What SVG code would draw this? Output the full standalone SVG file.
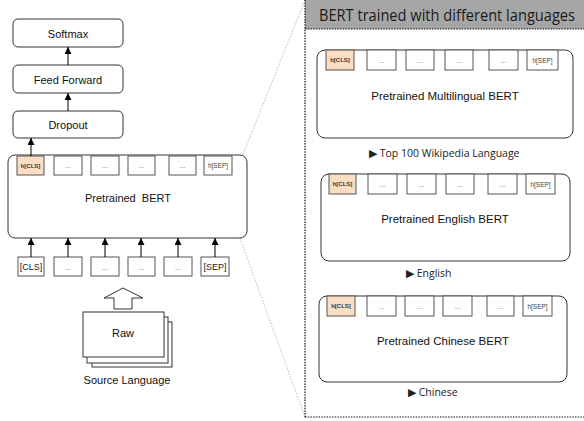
<svg xmlns="http://www.w3.org/2000/svg" width="584" height="421" viewBox="0 0 584 421">
<defs>
<marker id="ah" viewBox="0 0 8 8" refX="8" refY="4" markerWidth="7" markerHeight="7" markerUnits="userSpaceOnUse" orient="auto"><path d="M0,0 L8,4 L0,8 Z" fill="#000"/></marker>
<style>
.box{fill:#fff;stroke:#333;stroke-width:1}
.tok{fill:#fff;stroke:#555;stroke-width:1}
.cls{fill:#FADDC2;stroke:#555;stroke-width:1}
.lbl{font-family:"Liberation Sans",Arial,sans-serif;font-size:11px;fill:#111;text-anchor:middle}
.big{font-family:"Liberation Sans",Arial,sans-serif;font-size:11.5px;fill:#111;text-anchor:middle}
.hc{font-family:"Liberation Sans",Arial,sans-serif;font-size:6px;font-weight:bold;fill:#333;text-anchor:middle}
.hs{font-family:"Liberation Sans",Arial,sans-serif;font-size:6.5px;fill:#444;text-anchor:middle}
.dots{font-family:"Liberation Sans",Arial,sans-serif;font-size:7px;fill:#666;text-anchor:middle}
.in{font-family:"Liberation Sans",Arial,sans-serif;font-size:9px;fill:#222;text-anchor:middle}
.cap{font-family:"Open Sans","Noto Sans",sans-serif;font-size:10.5px;fill:#222}
.arr{stroke:#000;stroke-width:1;fill:none;marker-end:url(#ah)}
.gline{stroke:#bbb;stroke-width:1;stroke-dasharray:1.5 1.5;fill:none}
.dborder{stroke:#111;stroke-width:1.2;stroke-dasharray:1.5 1.2;fill:none}
</style>
</defs>

<!-- zoom guide lines -->
<g id="guides">
<line class="gline" x1="242" y1="157" x2="305" y2="0"/>
<line class="gline" x1="240" y1="238" x2="305" y2="417"/>
</g>

<!-- right panel -->
<g id="panel">
<rect x="305" y="0" width="279" height="29" fill="#A6A6A6"/>
<line class="dborder" x1="305" y1="29" x2="584" y2="29"/>
<line class="dborder" x1="305" y1="0" x2="305" y2="417"/>
<line class="dborder" x1="305" y1="417" x2="584" y2="417"/>
<text x="319" y="21" font-family="'Open Sans','Noto Sans',sans-serif" font-size="16.5" fill="#1a1a1a" textLength="256" lengthAdjust="spacingAndGlyphs">BERT trained with different languages</text>
</g>

<g id="softmax"><rect class="box" x="13" y="19" width="110" height="28" rx="5"/><text class="lbl" x="68" y="38">Softmax</text></g>
<g id="feedforward"><rect class="box" x="13" y="65" width="110" height="28" rx="5"/><text class="lbl" x="68" y="84">Feed Forward</text></g>
<g id="dropout"><rect class="box" x="13" y="111" width="110" height="27" rx="5"/><text class="lbl" x="68" y="129">Dropout</text></g>

<g id="bert">
<rect class="box" x="8" y="155" width="239" height="83" rx="7"/>
<text class="lbl" x="128" y="202" style="white-space:pre" xml:space="preserve">Pretrained  BERT</text>
<rect class="cls" x="17" y="156" width="27" height="19"/><text class="hc" x="30.5" y="167.5">h[CLS]</text>
<rect class="tok" x="54" y="156" width="28" height="19"/><text class="dots" x="68" y="168">...</text>
<rect class="tok" x="91" y="156" width="28" height="19"/><text class="dots" x="105" y="168">...</text>
<rect class="tok" x="128" y="156" width="27" height="19"/><text class="dots" x="141.5" y="168">...</text>
<rect class="tok" x="169" y="156" width="27" height="19"/><text class="dots" x="182.5" y="168">...</text>
<rect class="tok" x="204" y="156" width="28" height="19"/><text class="hs" x="218" y="168">h[SEP]</text>
</g>

<g id="inputs">
<rect class="tok" x="18" y="257" width="26" height="19"/><text class="in" x="31" y="270">[CLS]</text>
<rect class="tok" x="54" y="257" width="28" height="19"/><text class="dots" x="68" y="269.5">...</text>
<rect class="tok" x="91" y="257" width="28" height="19"/><text class="dots" x="105" y="269.5">...</text>
<rect class="tok" x="128" y="257" width="27" height="19"/><text class="dots" x="141.5" y="269.5">...</text>
<rect class="tok" x="164" y="257" width="28" height="19"/><text class="dots" x="178" y="269.5">...</text>
<rect class="tok" x="201" y="257" width="28" height="19"/><text class="in" x="215" y="270">[SEP]</text>
</g>

<g id="raw">
<path d="M123,288 L143,298 L132,298 L132,309 L114,309 L114,298 L104,298 Z" fill="#fff" stroke="#333" stroke-width="1"/>
<rect class="box" x="92" y="322" width="80" height="45"/>
<rect class="box" x="87" y="317" width="81" height="46"/>
<rect class="box" x="83" y="312" width="81" height="45"/>
<text class="lbl" x="123" y="337">Raw</text>
<text class="lbl" x="127" y="384">Source Language</text>
</g>

<g id="multilingual">
<rect class="box" x="317" y="50" width="256" height="88" rx="8"/>
<rect class="cls" x="326" y="50" width="28" height="20"/><text class="hc" x="340" y="62">h[CLS]</text>
<rect class="tok" x="367" y="50" width="29" height="20"/><text class="dots" x="381.5" y="62.5">...</text>
<rect class="tok" x="406" y="50" width="28" height="20"/><text class="dots" x="420" y="62.5">...</text>
<rect class="tok" x="445" y="50" width="28" height="20"/><text class="dots" x="459" y="62.5">...</text>
<rect class="tok" x="489" y="50" width="29" height="20"/><text class="dots" x="503.5" y="62.5">...</text>
<rect class="tok" x="527" y="50" width="31" height="20"/><text class="hs" x="542.5" y="62.5">h[SEP]</text>
<text class="big" x="445" y="100">Pretrained Multilingual BERT</text>
<text class="cap" x="369" y="157">▶ Top 100 Wikipedia Language</text>
</g>

<g id="english">
<rect class="box" x="321" y="174" width="249" height="87" rx="8"/>
<rect class="cls" x="329" y="174" width="27" height="20"/><text class="hc" x="342.5" y="186">h[CLS]</text>
<rect class="tok" x="368" y="174" width="29" height="20"/><text class="dots" x="382.5" y="186.5">...</text>
<rect class="tok" x="407" y="174" width="29" height="20"/><text class="dots" x="421.5" y="186.5">...</text>
<rect class="tok" x="446" y="174" width="28" height="20"/><text class="dots" x="460" y="186.5">...</text>
<rect class="tok" x="488" y="174" width="29" height="20"/><text class="dots" x="502.5" y="186.5">...</text>
<rect class="tok" x="526" y="174" width="29" height="20"/><text class="hs" x="540.5" y="186.5">h[SEP]</text>
<text class="big" x="445" y="223">Pretrained English BERT</text>
<text class="cap" x="406" y="277">▶ English</text>
</g>

<g id="chinese">
<rect class="box" x="319" y="296" width="248" height="86" rx="8"/>
<rect class="cls" x="327" y="296" width="28" height="20"/><text class="hc" x="341" y="308">h[CLS]</text>
<rect class="tok" x="367" y="296" width="29" height="20"/><text class="dots" x="381.5" y="308.5">...</text>
<rect class="tok" x="405" y="296" width="29" height="20"/><text class="dots" x="419.5" y="308.5">...</text>
<rect class="tok" x="443" y="296" width="29" height="20"/><text class="dots" x="457.5" y="308.5">...</text>
<rect class="tok" x="487" y="296" width="27" height="20"/><text class="dots" x="500.5" y="308.5">...</text>
<rect class="tok" x="523" y="296" width="29" height="20"/><text class="hs" x="537.5" y="308.5">h[SEP]</text>
<text class="big" x="443" y="345">Pretrained Chinese BERT</text>
<text class="cap" x="408" y="396">▶ Chinese</text>
</g>

<g id="connectors">
<line class="arr" x1="68" y1="65" x2="68" y2="47"/>
<line class="arr" x1="68" y1="111" x2="68" y2="93"/>
<line class="arr" x1="31" y1="156" x2="31" y2="138"/>
<line class="arr" x1="31" y1="257" x2="31" y2="238"/>
<line class="arr" x1="68" y1="257" x2="68" y2="238"/>
<line class="arr" x1="105" y1="257" x2="105" y2="238"/>
<line class="arr" x1="141" y1="257" x2="141" y2="238"/>
<line class="arr" x1="178" y1="257" x2="178" y2="238"/>
<line class="arr" x1="215" y1="257" x2="215" y2="238"/>
</g>
</svg>
